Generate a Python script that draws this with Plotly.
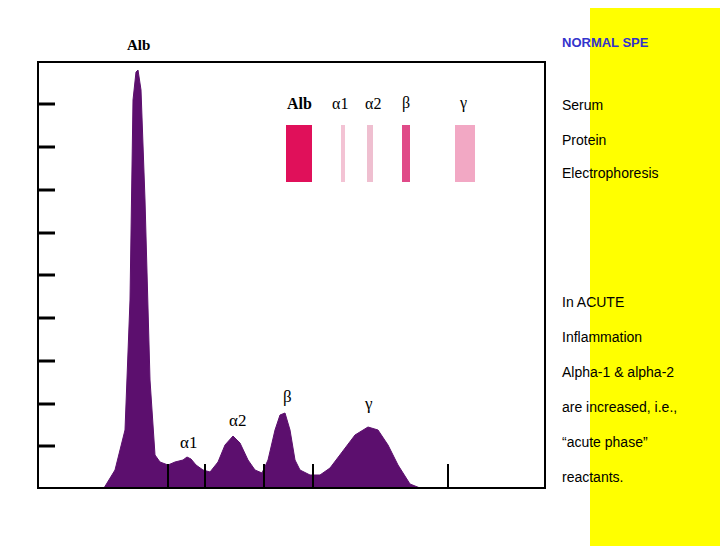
import plotly.graph_objects as go

# densitometry trace: position (px across frame) and height above baseline
pos = [104, 115, 125, 130, 133, 136, 138, 141, 145, 150, 155, 160, 168, 175, 183, 187, 191, 196,
       203, 210, 218, 225, 233, 240, 248, 255, 262, 268, 275, 280, 285, 290, 295, 300, 310, 320,
       330, 340, 355, 368, 378, 388, 398, 410, 420]
height = [0, 18, 58, 188, 388, 416, 418, 398, 288, 108, 33, 26, 23, 26, 28, 31, 29, 23,
          18, 16, 26, 43, 52, 45, 28, 18, 15, 28, 58, 73, 75, 58, 28, 18, 13, 13,
          20, 33, 53, 61, 58, 43, 23, 4, 0]

fraction_names = ['α1', 'α2', 'β', 'γ']
fraction_x = [188, 237, 287, 368]
fraction_y = [442, 420, 396, 403]
divider_x = [168, 205, 264, 313, 448]
left_ticks = [104, 147, 190, 233, 275, 318, 361, 404, 446]

band_names = ['Alb', 'α1', 'α2', 'β', 'γ']
band_x = [299, 343, 370, 406, 465]
band_w = [26, 4, 6, 8, 20]
band_color = ['#e0105a', '#f3c3d4', '#efbfd0', '#e04a88', '#f2a8c4']

side_text = ['Serum', 'Protein', 'Electrophoresis', 'In ACUTE', 'Inflammation',
             'Alpha-1 &amp; alpha-2', 'are increased, i.e.,', '“acute phase”', 'reactants.']
side_y = [105, 140, 173, 302, 337, 372, 407, 442, 477]

BASE = 488
fig = go.Figure()
fig.add_trace(go.Scatter(x=pos, y=[BASE - h for h in height], fill='toself', mode='lines',
                         line=dict(color='#5c0f6e', width=1), fillcolor='#5c0f6e', hoverinfo='skip'))

shapes = [
    dict(type='rect', x0=590, x1=740, y0=-10, y1=560, fillcolor='#ffff00', line_width=0, layer='below'),
    dict(type='rect', x0=-10, x1=740, y0=-10, y1=3, fillcolor='#ffff00', line_width=0, layer='below'),
    dict(type='rect', x0=38, x1=545, y0=62, y1=BASE, line=dict(color='black', width=2)),
]
for t in left_ticks:
    shapes.append(dict(type='line', x0=38, x1=55, y0=t, y1=t, line=dict(color='black', width=3)))
for d in divider_x:
    shapes.append(dict(type='line', x0=d, x1=d, y0=BASE - 24, y1=BASE, line=dict(color='black', width=2)))
for bx, bw, bc in zip(band_x, band_w, band_color):
    shapes.append(dict(type='rect', x0=bx - bw / 2, x1=bx + bw / 2, y0=125, y1=182,
                       fillcolor=bc, line_width=0))

serif = dict(family='Liberation Serif, DejaVu Serif', color='black')
ann = [dict(x=138, y=45, text='<b>Alb</b>', font=dict(size=15, **serif))]
for n, x, y in zip(fraction_names, fraction_x, fraction_y):
    ann.append(dict(x=x, y=y, text=n, font=dict(size=17, **serif)))
for n, x in zip(band_names, [299, 340, 373, 406, 463]):
    ann.append(dict(x=x, y=103, text='<b>' + n + '</b>' if n == 'Alb' else n, font=dict(size=16, **serif)))
ann.append(dict(x=560, y=42, text='<b>NORMAL SPE</b>', xanchor='left',
                font=dict(family='Liberation Sans', size=13, color='#3333cc')))
for t, y in zip(side_text, side_y):
    ann.append(dict(x=560, y=y, text=t, xanchor='left', font=dict(family='Liberation Sans', size=14, color='black')))
for a in ann:
    a.update(showarrow=False, xref='x', yref='y')

# page has an 8px body margin, so offset the ranges to keep reference pixel coordinates
fig.update_layout(
    width=728, height=546, margin=dict(l=0, r=0, t=0, b=0),
    plot_bgcolor='white', paper_bgcolor='white', showlegend=False,
    xaxis=dict(range=[8, 736], visible=False, fixedrange=True),
    yaxis=dict(range=[554, 8], visible=False, fixedrange=True),
    shapes=shapes, annotations=ann,
)
fig.write_html('out.html')
